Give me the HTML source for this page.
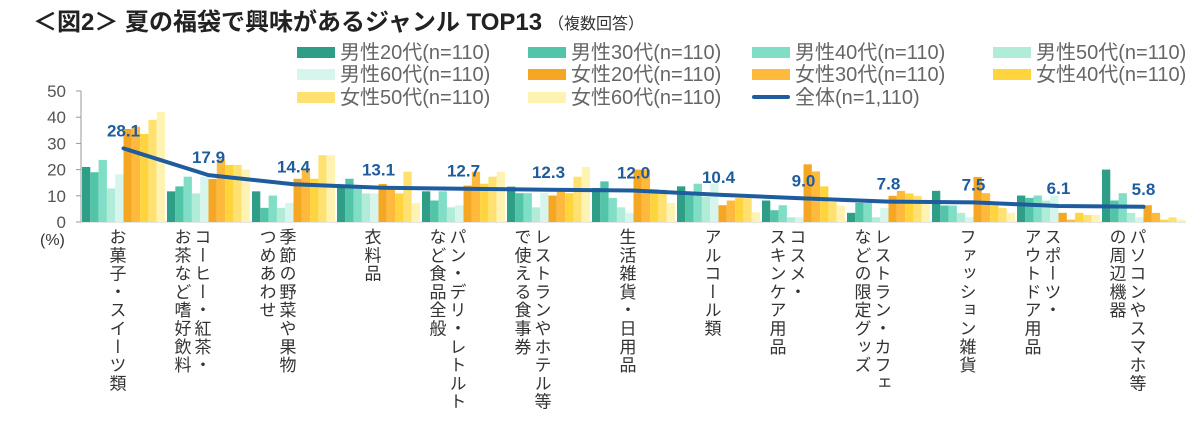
<!DOCTYPE html>
<html><head><meta charset="utf-8">
<style>
body{margin:0;background:#fff;width:1200px;height:422px;overflow:hidden;font-family:"Liberation Sans","Noto Sans CJK JP",sans-serif;}
svg{position:absolute;left:0;top:0}
.xl{position:absolute;top:228px;writing-mode:vertical-rl;font-size:17px;line-height:20px;letter-spacing:1.3px;color:#333;font-family:"Noto Sans CJK JP",sans-serif;white-space:pre}
</style></head><body>
<svg id="chart" width="1200" height="422" viewBox="0 0 1200 422"></svg>
<div id="xlabels"></div>
<script>
const categories=["お菓子・スイーツ類","コーヒー・紅茶・\nお茶など嗜好飲料","季節の野菜や果物\nつめあわせ","衣料品","パン・デリ・レトルト\nなど食品全般","レストランやホテル等\nで使える食事券","生活雑貨・日用品","アルコール類","コスメ・\nスキンケア用品","レストラン・カフェ\nなどの限定グッズ","ファッション雑貨","スポーツ・\nアウトドア用品","パソコンやスマホ等\nの周辺機器"];
const seriesNames=["男性20代(n=110)","男性30代(n=110)","男性40代(n=110)","男性50代(n=110)","男性60代(n=110)","女性20代(n=110)","女性30代(n=110)","女性40代(n=110)","女性50代(n=110)","女性60代(n=110)"];
const male20=[21,11.7,11.7,13.6,11.7,13.5,13,13.6,8.2,3.5,11.9,10.1,20];
const male30=[19,13.6,5.4,16.5,8.2,11,15.5,10.2,4.5,7.3,6.3,9.2,8.2];
const male40=[23.7,17.3,10.1,13.6,11.7,11,9.2,14.6,6.4,7.3,6.3,10.1,11];
const male50=[12.8,10.9,5.4,10.9,5.6,5.6,5.6,9.6,1.8,1.8,3.5,8.2,3.5];
const male60=[18.2,17.2,7.3,10.9,6.4,11.1,3.5,14.6,1.8,5.4,1.8,10.1,1.8];
const female20=[35.5,16.4,16.5,14.5,13.9,10.1,20,6.4,22,10,17.2,3.5,6.4];
const female30=[36.4,24,20.2,13.4,19.2,11.6,20,8.2,19.3,11.9,11,0.9,3.5];
const female40=[33.6,21.8,16.5,10.9,14.6,11,12.6,9.1,13.6,10.9,6.3,3.5,0.9];
const female50=[39,21.8,25.5,19.2,17.3,17.3,12.4,9.1,7.6,10,5.4,2.7,1.8];
const female60=[42,20,25.5,7.3,19.2,21,7.3,3.7,6.3,7.3,3.5,2.7,0.9];
const total=[28.1,17.9,14.4,13.1,12.7,12.3,12.0,10.4,9.0,7.8,7.5,6.1,5.8];
const yTicks=[0,10,20,30,40,50];
const colors=["#2e9e86","#52c5a8","#80dec6","#b0ecd8","#d6f5ec","#f5a623","#ffb93c","#ffd43c","#ffe172","#fff3b3"];
const series=[male20,male30,male40,male50,male60,female20,female30,female40,female50,female60];
const NS="http://www.w3.org/2000/svg";
const svg=document.getElementById('chart');
const x0=81,x1=1186,y0=222,yTop=91;
const band=(x1-x0)/categories.length;
const y=v=>y0-(v/50)*(y0-yTop);
const xc=i=>x0+band*(i+0.5);
function mk(t,a){const e=document.createElementNS(NS,t);for(const k in a)e.setAttribute(k,a[k]);svg.appendChild(e);return e;}
let t=mk('text',{x:33,y:30,'font-size':24,'font-weight':'bold',fill:'#222','font-family':'"Liberation Sans","Noto Sans CJK JP",sans-serif'});


t.textContent='＜図2＞ 夏の福袋で興味があるジャンル TOP13';
let t2=mk('text',{x:548,y:29,'font-size':16,fill:'#333','font-family':'"Noto Sans CJK JP",sans-serif'});


t2.textContent='（複数回答）';
let ax=mk('line',{x1:x0,y1:yTop,x2:x0,y2:y0,stroke:'#999','stroke-width':1});


let bx=mk('line',{x1:x0,y1:y0,x2:x1,y2:y0,stroke:'#ccc','stroke-width':1});


yTicks.forEach(v=>{
 let tk=mk('line',{x1:x0-5,y1:y(v),x2:x0,y2:y(v),stroke:'#999'});
 
 
 let l=mk('text',{x:66,y:y(v)+6,'text-anchor':'end','font-size':17,fill:'#555'});
 
 
 l.textContent=v;
});
let pu=mk('text',{x:40,y:245,'font-size':16,fill:'#333'});


pu.textContent='(%)';
const bw=(band-2)/10;
series.forEach((s,si)=>{
 s.forEach((v,i)=>{
  let r=mk('rect',{x:x0+band*i+1+bw*si,y:y(v),width:bw,height:y0-y(v),fill:colors[si]});
  
  
 });
});
let pts=total.map((v,i)=>xc(i)+','+y(v)).join(' ');
let pl=mk('polyline',{points:pts,fill:'none',stroke:'#1f5c9e','stroke-width':4,'stroke-linejoin':'round','stroke-linecap':'round'});


total.forEach((v,i)=>{
 let l=mk('text',{x:xc(i),y:y(v)-12,'text-anchor':'middle','font-size':17,'font-weight':'bold',fill:'#1f5c9e'});
 
 
 l.textContent=v.toFixed(1);
});
const legX=[297,528,752,993],legY=[52,74,97];
const items=seriesNames.concat(['全体(n=1,110)']);
items.forEach((n,k)=>{
 const c=k%4,r=Math.floor(k/4);
 const lx=legX[c],ly=legY[r];
 let g;
 if(k<10){g=mk('rect',{x:lx,y:ly-5,width:38,height:11,fill:colors[k]});}
 else{g=mk('line',{x1:lx+2,y1:ly,x2:lx+36,y2:ly,stroke:'#1f5c9e','stroke-width':4,'stroke-linecap':'round'});}
 
 
 let tx=mk('text',{x:lx+43,y:ly+7,'font-size':20,fill:'#666','font-family':'"Liberation Sans","Noto Sans CJK JP",sans-serif'});
 
 
 tx.textContent=n;
});
const xl=document.getElementById('xlabels');
categories.forEach((c,i)=>{
 const d=document.createElement('div');
 d.className='xl';
 
 
 d.textContent=c;
 d.style.right=(1200-(xc(i)+4))+'px';
 xl.appendChild(d);
});
</script>
</body></html>
